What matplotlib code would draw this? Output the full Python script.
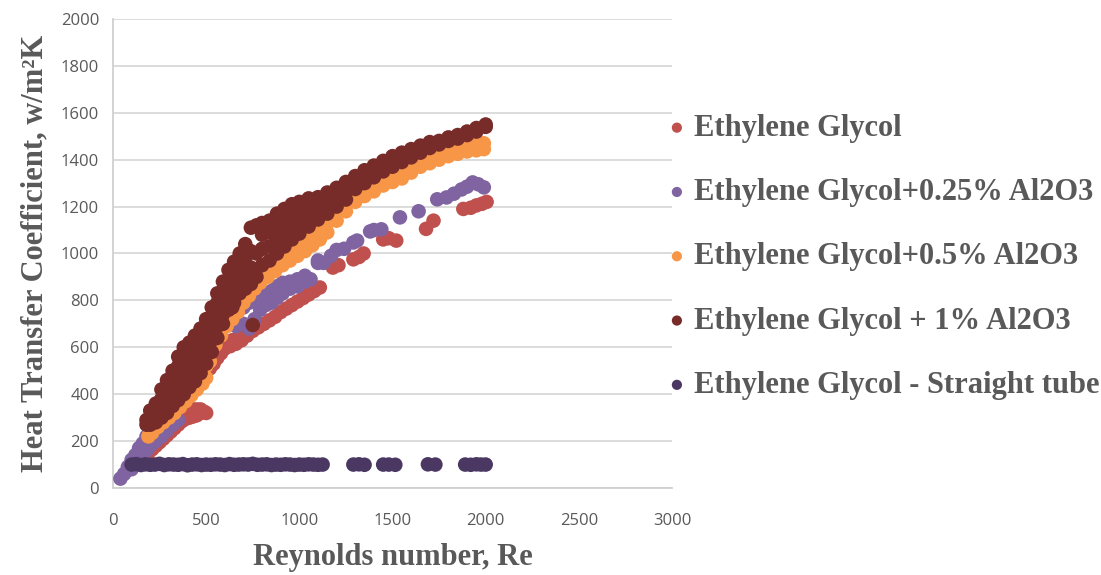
import matplotlib
matplotlib.use("Agg")
import matplotlib.pyplot as plt

# ==========================================================
# DATA
# ==========================================================
eg_re = [150, 170, 190, 210, 230, 250, 270, 290, 310, 330, 350, 370,
         390, 390, 410, 410, 430, 430, 450, 450, 470, 470, 490, 500,
         520, 540, 540, 560, 570, 580, 600, 600, 630, 640, 660, 680,
         690, 720, 720, 750, 780, 810, 840, 870, 900, 930, 960, 990,
         1020, 1050, 1080, 1110,
         1180, 1210, 1290, 1320, 1345, 1450, 1480, 1520, 1680, 1720,
         1880, 1920, 1950, 1980, 2005]
eg_h = [120, 135, 150, 165, 180, 195, 210, 225, 240, 255, 270, 285,
        295, 310, 300, 320, 305, 335, 310, 335, 320, 335, 325, 320,
        510, 530, 560, 555, 590, 575, 595, 615, 605, 630, 615, 650,
        630, 650, 670, 670, 685, 700, 715, 730, 750, 765, 780, 795,
        810, 825, 840, 855,
        940, 950, 975, 985, 1000, 1060, 1065, 1055, 1105, 1140,
        1190, 1195, 1205, 1212, 1220]

eg025_re = [40, 60, 80, 100, 100, 120, 120, 140, 140, 160, 160, 180, 180,
            200, 200, 230, 230, 260, 260, 290, 290, 320, 350,
            630, 630, 660, 660, 700, 700, 730, 730, 760, 760, 790, 790,
            820, 820, 850, 850, 880, 880, 910, 910, 950, 950, 990, 990,
            1030, 1030, 1060, 1100, 1100, 1130, 1170,
            1200, 1240, 1290, 1310, 1380, 1400, 1440, 1540, 1640, 1740,
            1790, 1830, 1870, 1900, 1930, 1960, 1990]
eg025_h = [40, 60, 90, 80, 120, 100, 140, 120, 170, 140, 190, 160, 220,
           180, 240, 200, 260, 220, 280, 245, 300, 270, 290,
           720, 750, 740, 690, 700, 770, 680, 790, 720, 800, 760, 810,
           780, 830, 790, 840, 810, 860, 830, 875, 850, 880, 860, 890,
           880, 905, 890, 960, 970, 960, 990,
           1015, 1020, 1047, 1055, 1094, 1100, 1103, 1154, 1180, 1231,
           1239, 1255, 1273, 1285, 1303, 1295, 1282]

eg05_re = [190, 210, 210, 240, 240, 270, 270, 300, 300, 330, 330, 360, 360,
           390, 390, 420, 420, 450, 450, 480, 480, 500, 500,
           520, 520, 550, 550, 580, 580, 610, 610, 640, 640, 670, 670,
           700, 700, 730, 730, 760, 760, 790, 790, 830, 830, 870, 870,
           910, 910, 950, 950, 990, 990, 1030, 1030, 1070, 1070,
           1110, 1110, 1150, 1150, 1200, 1200, 1250, 1250, 1300, 1300,
           1350, 1350, 1400, 1400, 1450, 1450, 1500, 1500, 1550, 1550,
           1600, 1600, 1650, 1650, 1700, 1700, 1750, 1750, 1800, 1800,
           1850, 1850, 1900, 1900, 1950, 1950, 1990, 1990]
eg05_h = [220, 235, 250, 260, 280, 280, 300, 300, 320, 320, 345, 345, 370,
          370, 395, 395, 420, 420, 445, 445, 480, 470, 520,
          540, 600, 610, 650, 650, 700, 690, 740, 720, 770, 750, 800,
          790, 840, 820, 865, 850, 890, 875, 915, 900, 940, 925, 965,
          950, 990, 970, 1010, 990, 1035, 1010, 1055, 1035, 1080,
          1060, 1100, 1090, 1130, 1140, 1170, 1180, 1210, 1220, 1250,
          1245, 1275, 1265, 1300, 1290, 1325, 1305, 1345, 1320, 1365,
          1345, 1385, 1370, 1400, 1385, 1415, 1400, 1430, 1415, 1445,
          1425, 1455, 1435, 1460, 1440, 1465, 1445, 1470]

eg1_re = [180, 180, 200, 200, 200, 230, 230, 230, 260, 260, 260, 260,
          290, 290, 290, 290, 320, 320, 320, 320,
          350, 350, 350, 350, 350, 380, 380, 380, 380, 380,
          410, 410, 410, 410, 410, 440, 440, 440, 440, 440,
          470, 470, 470, 470, 470, 500, 500, 500, 500, 500,
          530, 530, 530, 530, 530, 560, 560, 560, 560, 560,
          590, 590, 590, 590, 590, 620, 620, 620, 620, 640,
          650, 650, 650, 650, 680, 680, 680, 680, 710, 710, 710, 710,
          740, 740, 740, 740, 750, 770, 770, 770, 800, 800, 800, 800,
          840, 840, 840, 840, 880, 880, 880, 880, 920, 920, 920, 920,
          960, 960, 960, 960, 1000, 1000, 1000, 1000,
          1050, 1050, 1050, 1050,
          1100, 1100, 1100, 1150, 1150, 1150, 1200, 1200, 1200,
          1250, 1250, 1250, 1300, 1300, 1300, 1350, 1350, 1350,
          1400, 1400, 1400, 1450, 1450, 1450, 1500, 1500, 1500,
          1550, 1550, 1550, 1600, 1600, 1600, 1650, 1650, 1650,
          1700, 1700, 1700, 1750, 1750, 1800, 1800, 1850, 1850,
          1900, 1900, 1950, 1950, 2000, 2000]
eg1_h = [270, 290, 270, 300, 330, 280, 320, 360, 300, 340, 380, 420,
         320, 370, 420, 460, 350, 400, 450, 500,
         375, 420, 470, 520, 560, 400, 450, 500, 550, 600,
         430, 480, 530, 580, 620, 455, 510, 560, 610, 650,
         490, 540, 590, 640, 680, 530, 580, 630, 680, 720,
         580, 630, 680, 730, 770, 640, 690, 740, 790, 830,
         700, 740, 790, 840, 880, 760, 810, 870, 930, 770,
         790, 840, 900, 965, 830, 880, 940, 1000, 850, 910, 980, 1040,
         870, 940, 1010, 1110, 695, 900, 1000, 1120, 950, 1020, 1080, 1130,
         970, 1030, 1090, 1140, 1000, 1060, 1120, 1170, 1030, 1090, 1140, 1190,
         1060, 1110, 1160, 1210, 1085, 1130, 1180, 1220,
         1115, 1160, 1200, 1235,
         1145, 1195, 1240, 1170, 1215, 1260, 1200, 1240, 1280,
         1230, 1265, 1305, 1275, 1300, 1330, 1300, 1330, 1355,
         1325, 1355, 1375, 1350, 1375, 1395, 1370, 1395, 1415,
         1390, 1415, 1430, 1410, 1435, 1445, 1430, 1450, 1460,
         1450, 1465, 1475, 1465, 1480, 1480, 1495, 1490, 1505,
         1505, 1520, 1520, 1535, 1540, 1550]

straight_re = [100, 125, 150, 175, 200, 225, 250, 275, 300, 325, 350, 375,
               400, 425, 450, 475, 500, 525, 550, 575, 600, 625, 650, 675,
               700, 725, 750, 775, 800, 825, 850, 875, 900, 925, 950, 975,
               1000, 1025, 1050, 1075, 1100, 1125,
               1290, 1320, 1350, 1450, 1480, 1515, 1690, 1730,
               1890, 1920, 1950, 1975, 2000]
straight_h = [100, 102, 98, 101, 99, 100, 103, 98, 101, 100, 99, 102,
              97, 100, 101, 98, 100, 99, 101, 100, 98, 102, 99, 100,
              101, 100, 103, 99, 100, 101, 98, 100, 99, 101, 100, 98,
              100, 99, 101, 100, 99, 100,
              100, 101, 99, 100, 100, 99, 101, 100,
              100, 99, 101, 100, 100]

labels = ["Ethylene Glycol",
          "Ethylene Glycol+0.25% Al2O3",
          "Ethylene Glycol+0.5% Al2O3",
          "Ethylene Glycol + 1% Al2O3",
          "Ethylene Glycol - Straight tube"]
colors = ["#C0504D", "#8064A2", "#F79646", "#772C2A", "#4A3862"]

series = [(eg_re, eg_h), (eg025_re, eg025_h), (eg05_re, eg05_h),
          (eg1_re, eg1_h), (straight_re, straight_h)]

# ==========================================================
# PLOT
# ==========================================================
GREY = "#595959"

fig = plt.figure(figsize=(11.01, 5.75), dpi=100)
ax = fig.add_axes([0.1026, 0.1513, 0.5078, 0.8157])

for i, (xs, ys) in enumerate(series):
    ax.scatter(xs, ys, s=110, color=colors[i], edgecolors="none",
               label=labels[i], zorder=3 + i)

ax.set_xlim(0, 3000)
ax.set_ylim(0, 2000)
ax.set_xticks(range(0, 3001, 500))
ax.set_yticks(range(0, 2001, 200))

ax.grid(True, axis="y", color="#D9D9D9", linewidth=1.3)
ax.set_axisbelow(True)
for side in ["top", "right"]:
    ax.spines[side].set_visible(False)
for side in ["left", "bottom"]:
    ax.spines[side].set_color("#D0D0D0")
    ax.spines[side].set_linewidth(1.3)

ax.tick_params(length=0, labelsize=12, labelcolor=GREY)
ax.tick_params(axis="x", pad=18)
ax.tick_params(axis="y", pad=10)
for lab in ax.get_xticklabels() + ax.get_yticklabels():
    lab.set_family("Open Sans")

ax.set_xlabel("Reynolds number, Re", family="Liberation Serif",
              fontweight="bold", fontsize=22, color=GREY, labelpad=10)
ax.set_ylabel("Heat Transfer Coefficient, w/m\u00b2K", family="Liberation Serif",
              fontweight="bold", fontsize=22, color=GREY, labelpad=8)

leg = ax.legend(loc="center left", bbox_to_anchor=(0.995, 0.493),
                frameon=False, borderaxespad=0, borderpad=0,
                handlelength=0.5, handletextpad=0.3, labelspacing=1.155,
                scatterpoints=1, markerscale=0.7,
                prop={"family": "Liberation Serif", "weight": "bold", "size": 22})
for t in leg.get_texts():
    t.set_color(GREY)

plt.savefig("out.png", dpi=100)
